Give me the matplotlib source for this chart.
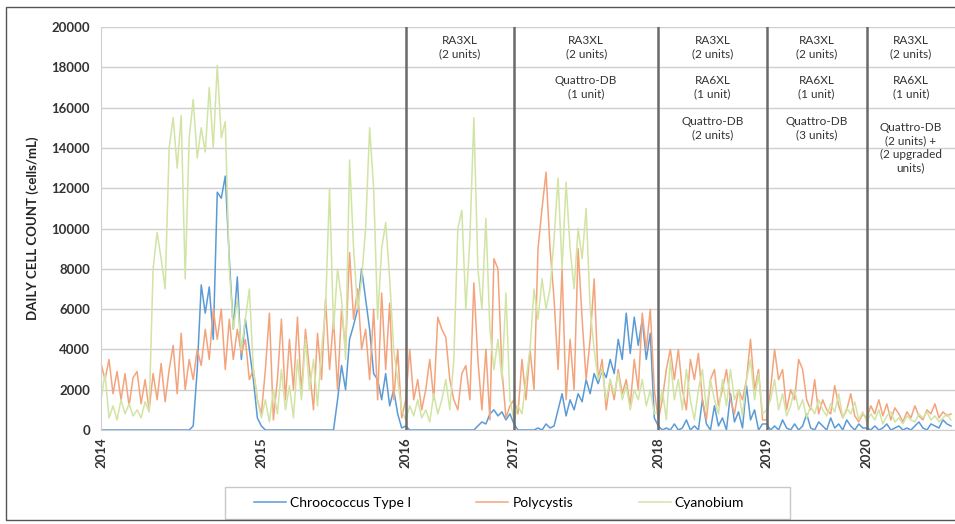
import numpy as np
import matplotlib
matplotlib.use('Agg')
import matplotlib.pyplot as plt
from matplotlib.patches import Rectangle

plt.rcParams['font.family'] = ['Lato', 'DejaVu Sans']

# samples per calendar year (the x axis is sample index, like the original Excel category axis)
years = ['2014', '2015', '2016', '2017', '2018', '2019', '2020']
samples_per_year = [40, 36, 27, 36, 27, 25, 22]

chroococcus = [
    # 2014
    0, 0, 0, 0, 0, 0, 0, 0, 0, 0, 0, 0, 0, 0, 0, 0, 0, 0, 0, 0, 0, 0, 0, 200,
    3000, 7200, 5800, 7100, 4500, 11800, 11500, 12600, 8500, 5000, 7600, 3500, 5500, 4000, 2500, 600,
    # 2015
    200, 0, 0, 0, 0, 0, 0, 0, 0, 0, 0, 0, 0, 0, 0, 0, 0, 0, 0,
    1500, 3200, 2000, 4500, 5200, 6000, 8000, 6500, 5000, 2800, 2500, 1500, 2800, 1200, 2000, 800, 100,
    # 2016
    200, 0, 0, 0, 0, 0, 0, 0, 0, 0, 0, 0, 0, 0, 0, 0, 0, 0,
    200, 400, 300, 800, 1000, 700, 900, 500, 800,
    # 2017
    300, 0, 0, 0, 0, 0, 100, 0, 300, 100, 200, 1000, 1800, 700, 1500, 1000, 1800, 1400,
    2500, 1800, 2800, 2300, 3000, 2600, 3500, 2800, 4500, 3500, 5800, 3800, 5600, 4200, 5500, 3500, 4800, 600,
    # 2018
    200, 0, 100, 0, 300, 0, 100, 500, 0, 200, 0, 1500, 300, 0, 1200, 200, 600, 0, 1800, 400,
    900, 100, 2200, 500, 1000, 0, 300,
    # 2019
    300, 0, 200, 0, 500, 100, 0, 300, 0, 200, 800, 100, 0, 400, 200, 0, 600, 100, 300, 0,
    500, 200, 0, 300, 100,
    # 2020
    100, 0, 200, 0, 100, 300, 0, 100, 200, 0, 100, 0, 200, 400, 100, 0, 300, 200, 100, 500, 300, 200,
]

polycystis = [
    # 2014
    3300, 2500, 3500, 1800, 2900, 1500, 2800, 1200, 2600, 2900, 1300, 2500, 1000, 2800, 1500, 3300,
    1400, 3000, 4200, 1800, 4800, 2000, 3500, 2500, 4000, 3200, 5000, 3500, 6000, 4500, 6000, 3000,
    5500, 3500, 5000, 3800, 4500, 2500, 3000, 1500,
    # 2015
    800, 3000, 5800, 500, 2500, 5500, 1500, 4500, 2000, 5600, 1800, 5000, 3000, 1000, 4800, 2500,
    6500, 3000, 5500, 2000, 6000, 4000, 8800, 5500, 7000, 4000, 5000, 2500, 6000, 1500, 6800, 3000,
    6300, 1500, 4000, 600,
    # 2016
    1500, 4000, 1500, 2500, 1000, 2000, 3500, 1500, 5600, 5000, 4600, 2500, 1500, 1000, 2800, 3200,
    1500, 7300, 3500, 1000, 4000, 500, 8500, 8000, 3000, 600, 1200,
    # 2017
    1500, 800, 3500, 1500, 4000, 2000, 9000, 11000, 12800, 9000, 6500, 3000, 8000, 1500, 4500, 2000,
    9000, 5500, 2500, 4500, 7500, 2500, 3500, 1000, 2500, 1500, 3000, 1800, 2500, 1200, 3500, 2000,
    5800, 4000, 6000, 2000,
    # 2018
    500, 1500, 3000, 4000, 2500, 4000, 2000, 1000, 3500, 2500, 3800, 1500, 500, 2500, 3000, 1200,
    2000, 3000, 1500, 800, 2000, 1500, 2500, 4500, 2000, 3000, 500,
    # 2019
    500, 2000, 4000, 2500, 3000, 1000, 2000, 1500, 3500, 3000, 1500, 1000, 2500, 800, 1500, 1000,
    800, 2200, 1200, 600, 1000, 1800, 700, 400, 800,
    # 2020
    600, 1200, 800, 1500, 700, 1300, 500, 1100, 800, 400, 900, 600, 1200, 700, 500, 1000, 800, 1300,
    600, 900, 700, 800,
]

cyanobium = [
    # 2014
    1500, 2800, 600, 1200, 500, 1500, 800, 1300, 700, 1000, 600, 1400, 900, 8000, 9800, 8500,
    7000, 14000, 15500, 13000, 15600, 7500, 14500, 16400, 13500, 15000, 13800, 17000, 14000, 18100,
    14500, 15300, 8000, 5000, 6500, 4000, 5500, 7000, 3000, 1500,
    # 2015
    600, 1500, 400, 2000, 800, 3000, 1000, 2200, 600, 3500, 1500, 4500, 2000, 3500, 1200, 4000,
    6000, 12000, 5000, 8000, 6500, 3500, 13400, 9000, 6000, 7500, 10000, 15000, 12000, 5500, 9000,
    10300, 7500, 4000, 2500, 1000,
    # 2016
    500, 1200, 700, 1500, 600, 1000, 400, 1800, 800, 1500, 2500, 1000, 3500, 10000, 10900, 6000,
    9500, 15500, 8000, 6000, 10500, 5000, 3000, 4500, 2500, 6800, 1500,
    # 2017
    500, 1200, 800, 2500, 4000, 7000, 5500, 7500, 6000, 7000, 9500, 12500, 8000, 12300, 9000, 7000,
    10000, 8500, 11000, 6000, 4000, 2500, 3000, 1500, 2500, 1800, 2800, 1500, 2200, 1000, 2000, 1500,
    2500, 1200, 2000, 800,
    # 2018
    1000, 2000, 500, 3500, 1500, 2500, 1000, 3000, 1500, 500, 2000, 3000, 1000, 2500, 1500, 800,
    2500, 1200, 3000, 1500, 2000, 700, 2500, 3500, 1500, 2800, 800,
    # 2019
    1000, 1500, 2500, 1000, 1800, 700, 1200, 2000, 1000, 1500, 600, 1200, 800, 1500, 1000, 700,
    1300, 900, 1800, 600, 1100, 800, 1400, 500, 900,
    # 2020
    400, 800, 500, 1000, 300, 700, 900, 400, 600, 300, 700, 500, 400, 800, 600, 900, 500, 700, 400,
    600, 800, 500,
]

# upgrades installed at the start of each year
notes = {
    '2016': ['RA3XL\n(2 units)'],
    '2017': ['RA3XL\n(2 units)', 'Quattro-DB\n(1 unit)'],
    '2018': ['RA3XL\n(2 units)', 'RA6XL\n(1 unit)', 'Quattro-DB\n(2 units)'],
    '2019': ['RA3XL\n(2 units)', 'RA6XL\n(1 unit)', 'Quattro-DB\n(3 units)'],
    '2020': ['RA3XL\n(2 units)', 'RA6XL\n(1 unit)', 'Quattro-DB\n(2 units) +\n(2 upgraded\nunits)'],
}
note_y = [19000, 17000, 15000]

n_total = sum(samples_per_year)
x = np.arange(n_total)
year_pos = np.concatenate([[0], np.cumsum(samples_per_year)[:-1]])

fig = plt.figure(figsize=(9.55, 5.24), dpi=100)
ax = fig.add_axes([101/955, 1-430/524, 1-101/955, (430-27)/524])

ax.plot(x, chroococcus, color='#5b9bd5', lw=1.1, label='Chroococcus Type I')
ax.plot(x, polycystis, color='#f4a47c', lw=1.1, label='Polycystis')
ax.plot(x, cyanobium, color='#d2e4a4', lw=1.1, label='Cyanobium')

ax.set_xlim(0, n_total)
ax.set_ylim(0, 20000)
ax.set_yticks(np.arange(0, 20001, 2000))
ax.yaxis.grid(True, color='#cfcfcf', lw=1.0)
ax.set_axisbelow(True)
ax.set_xticks(year_pos)
ax.set_xticklabels(years, rotation=90)
ax.tick_params(axis='both', length=0, labelsize=9.5, colors='#333333')
ax.tick_params(axis='y', pad=8)
ax.tick_params(axis='x', pad=5)
for lbl in ax.get_yticklabels() + ax.get_xticklabels():
    lbl.set_fontweight('bold')
for s in ['top', 'right']:
    ax.spines[s].set_visible(False)
ax.spines['left'].set_color('#cfcfcf')
ax.spines['bottom'].set_color('#cfcfcf')

ax.set_ylabel('DAILY CELL COUNT (cells/mL)', fontsize=9.5, fontweight='bold', color='#222222', labelpad=9)

# dividers and upgrade notes
for i, yr in enumerate(years):
    if yr in notes:
        ax.axvline(year_pos[i], color='#6a6a6a', lw=1.8, zorder=4)
        end = year_pos[i + 1] if i + 1 < len(years) else n_total
        xc = (year_pos[i] + end) / 2
        for j, txt in enumerate(notes[yr]):
            yy = note_y[j]
            if txt.count('\n') > 2:
                yy = 14000
            ax.text(xc, yy, txt, ha='center', va='center', fontsize=8.5, color='#333333',
                    linespacing=1.25)

ax.legend(loc='center', bbox_to_anchor=(499/955, 1-503/524), bbox_transform=fig.transFigure,
          ncol=3, fontsize=10, frameon=False, handlelength=2.3, columnspacing=4.7,
          handletextpad=0.3)
fig.patches.append(Rectangle((225/955, 1-519/524), 565/955, 32/524, transform=fig.transFigure,
                             fill=False, edgecolor='#c8c8c8', lw=1.0))

fig.patches.append(Rectangle((6/955, 4/524), 1.2, 1-11/524, transform=fig.transFigure,
                             fill=False, edgecolor='#555555', lw=1.0))

fig.savefig('out.png', dpi=100)
